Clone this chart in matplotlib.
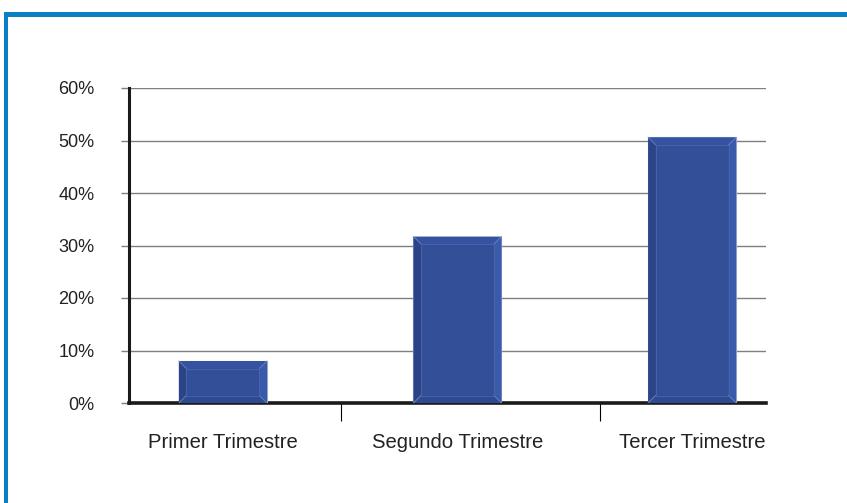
import matplotlib.pyplot as plt
import matplotlib.patches as mpatches
from matplotlib.transforms import IdentityTransform
from matplotlib.ticker import FixedLocator, FuncFormatter

categories = ["Primer Trimestre", "Segundo Trimestre", "Tercer Trimestre"]
values = [8.0, 31.7, 50.6]
yticks = [0, 10, 20, 30, 40, 50, 60]
separators = [0.503, 1.608]

BAR = "#324f97"
FRAME = "#0a7fc4"

plt.rcParams["font.family"] = ["Liberation Sans", "DejaVu Sans"]

fig = plt.figure(figsize=(8.47, 5.03), dpi=100)
ax = fig.add_axes([129 / 847, 1 - 403 / 503, (766 - 129) / 847, (403 - 88) / 503])

# blue frame (top and left)
fig.add_artist(mpatches.Rectangle((4 / 847, 1 - 17 / 503), 1, 5 / 503,
                                  transform=fig.transFigure, color=FRAME, lw=0))
fig.add_artist(mpatches.Rectangle((4 / 847, 0), 4 / 847, 1 - 12 / 503,
                                  transform=fig.transFigure, color=FRAME, lw=0))

x = list(range(len(categories)))
bars = ax.bar(x, values, width=0.375, color=BAR, edgecolor="#9aa6cc", linewidth=0.8, zorder=3)

ax.set_xlim(-0.40, 2.315)
ax.set_ylim(0, 60)
ax.yaxis.set_major_locator(FixedLocator(yticks))
ax.yaxis.set_major_formatter(FuncFormatter(lambda v, p: f"{v:.0f}%"))
ax.grid(axis="y", color="#7f7f7f", linewidth=1, zorder=0)
ax.set_axisbelow(True)

ax.set_xticks(x)
ax.set_xticklabels(categories, fontsize=14.6, color="#222222")
ax.set_xticks(separators, minor=True)
ax.tick_params(axis="x", which="major", length=0, pad=21.5)
ax.tick_params(axis="x", which="minor", length=13, width=0.8, color="black", direction="out")
ax.tick_params(axis="y", length=6, width=1, color="#7f7f7f", direction="out", pad=19,
               labelsize=13, labelcolor="#222222")

for s in ["top", "right"]:
    ax.spines[s].set_visible(False)
ax.spines["left"].set_linewidth(2.2)
ax.spines["bottom"].set_linewidth(2.6)
ax.spines["left"].set_color("#1a1a1a")
ax.spines["bottom"].set_color("#1a1a1a")

# bevel faces, computed from each bar's own extent in pixels
fig.canvas.draw()
b = 7.5
for rect in bars:
    x0, y0 = ax.transData.transform((rect.get_x(), rect.get_y()))
    x1, y1 = ax.transData.transform((rect.get_x() + rect.get_width(), rect.get_height()))
    faces = [
        ([(x0, y0), (x0 + b, y0 + b), (x0 + b, y1 - b), (x0, y1)], "#2b4487"),
        ([(x1, y0), (x1 - b, y0 + b), (x1 - b, y1 - b), (x1, y1)], "#3a5aab"),
        ([(x0, y1), (x0 + b, y1 - b), (x1 - b, y1 - b), (x1, y1)], "#3553a0"),
        ([(x0, y0), (x0 + b, y0 + b), (x1 - b, y0 + b), (x1, y0)], "#2e4a90"),
    ]
    for pts, c in faces:
        ax.add_patch(mpatches.Polygon(pts, closed=True, transform=IdentityTransform(),
                                      facecolor=c, edgecolor="none", zorder=4))
    for (px, py) in [(x0, y0), (x1, y0), (x0, y1), (x1, y1)]:
        ax.add_line(plt.Line2D([px, px + (b if px == x0 else -b)],
                               [py, py + (b if py == y0 else -b)],
                               transform=IdentityTransform(), color="#6f86c0",
                               linewidth=0.6, zorder=5))
    ax.add_patch(mpatches.Rectangle((x0 + b, y0 + b), x1 - x0 - 2 * b, y1 - y0 - 2 * b,
                                    transform=IdentityTransform(), facecolor="none",
                                    edgecolor="#4a66ad", linewidth=0.6, zorder=5))

fig.savefig("out.png", dpi=100)
